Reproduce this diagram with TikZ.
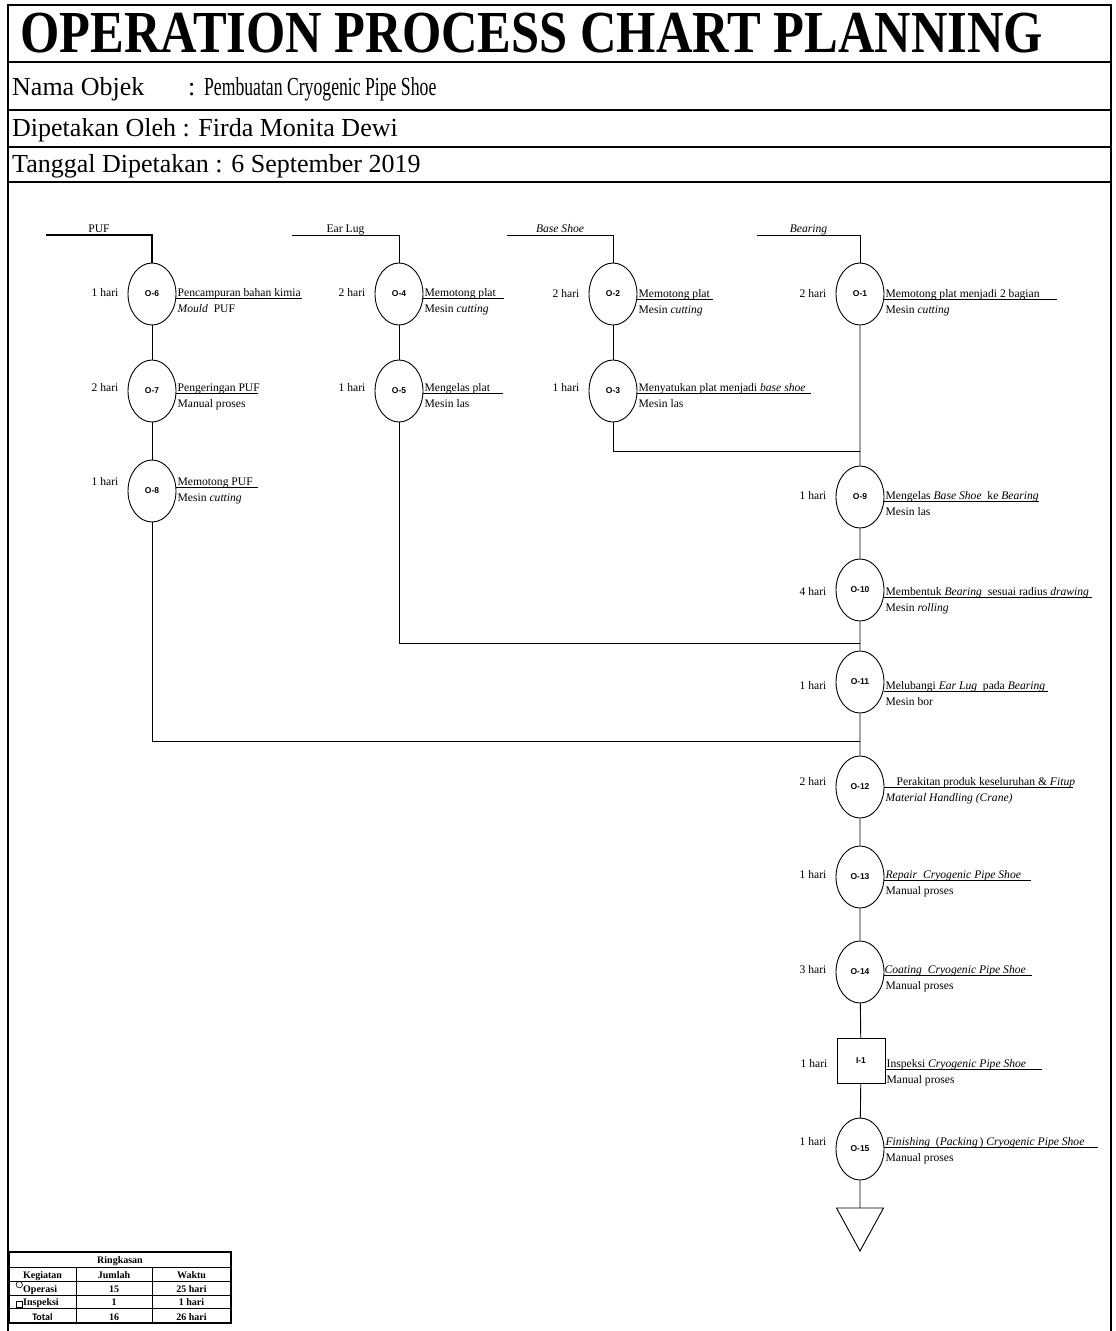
\documentclass[tikz,border=0pt]{standalone}
\usepackage{graphicx}
\usepackage{fontspec}
\setmainfont{Liberation Serif}
\newfontfamily\labelsans{Liberation Sans}
\newfontfamily\tablesans{Carlito}
\usetikzlibrary{shapes.geometric,calc}

\newcommand\notesize{\fontsize{11.6}{13}\selectfont}
\newcommand\headsize{\fontsize{26}{30}\selectfont}
\newcommand\tabsize{\fontsize{10}{11}\selectfont}

\tikzset{
  frameline/.style={line width=2.2pt},
  flow/.style={line width=0.9pt},
  rule/.style={line width=0.8pt},
  opnode/.style={ellipse, draw, line width=0.9pt, minimum width=48pt,
    minimum height=62pt, inner sep=0pt,
    font=\labelsans\bfseries\fontsize{8.5}{10}\selectfont},
  inspnode/.style={rectangle, draw, line width=0.9pt, minimum width=48pt,
    minimum height=45pt, inner sep=0pt,
    font=\labelsans\bfseries\fontsize{8.5}{10}\selectfont},
  note/.style={inner sep=0pt, font=\notesize},
  headtext/.style={inner sep=0pt, anchor=base west, font=\headsize},
  tabtext/.style={inner sep=0pt, anchor=base, font=\bfseries\tabsize},
  tabline/.style={line width=0.8pt},
}

% #1 node, #2 underline offset from centre, #3 underline length,
% #4 duration, #5 first line, #6 second line, #7 indent of first line
\newcommand\opinfo[7]{%
  \coordinate (#1-u) at ($(#1.east)+(0,#2)$);
  \draw[rule] (#1-u) -- ++(#3,0);
  \node[note, anchor=base west] (#1-a) at ($(#1-u)+(1+#7,-2)$) {#5};
  \node[note, anchor=base west] (#1-b) at ($(#1-u)+(1,14)$) {#6};
  \node[note, anchor=base east] (#1-d) at ($(#1.west)+(-9,#2-2)$) {#4};
}

\begin{document}
\begin{tikzpicture}[x=1pt,y=-1pt]
\useasboundingbox (0,0) rectangle (1116,1331);

% ---- frame and heading rows ----
\coordinate (fTL) at (8,5);
\coordinate (fTR) at (1111,5);
\coordinate (fBL) at (8,1331);
\coordinate (fBR) at (1111,1331);
\draw[frameline] (fBL) -- (fTL) -- (fTR) -- (fBR);
\foreach \yy in {62,110,147,182}
  \draw[frameline] (8,\yy) -- (1111,\yy);

\node[inner sep=0pt, anchor=base west, font=\bfseries\fontsize{50.5}{56}\selectfont]
  (title) at (20,52) {\scalebox{1}[1.18]{OPERATION PROCESS CHART PLANNING}};
\node[headtext] (nama) at (12,95) {Nama Objek};
\node[headtext] (namaval) at (188,95) {: \scalebox{0.68}[1]{Pembuatan Cryogenic Pipe Shoe}};
\node[headtext] (oleh) at (12,136) {Dipetakan Oleh : Firda Monita Dewi};
\node[headtext] (tgl) at (12,172) {Tanggal Dipetakan : 6 September 2019};

% ---- operations ----
\node[opnode] (o6) at (152,294) {O-6};
\node[opnode] (o7) at (152,391) {O-7};
\node[opnode] (o8) at (152,491) {O-8};
\node[opnode] (o4) at (399,294) {O-4};
\node[opnode] (o5) at (399,391) {O-5};
\node[opnode] (o2) at (613,294) {O-2};
\node[opnode] (o3) at (613,391) {O-3};
\node[opnode] (o1) at (860,294) {O-1};
\node[opnode] (o9) at (860,497) {O-9};
\node[opnode] (o10) at (860,590) {O-10};
\node[opnode] (o11) at (860,682) {O-11};
\node[opnode] (o12) at (860,787) {O-12};
\node[opnode] (o13) at (860,877) {O-13};
\node[opnode] (o14) at (860,972) {O-14};
\node[inspnode] (i1) at (861,1061) {I-1};
\node[opnode] (o15) at (860,1149) {O-15};

% storage triangle at the end of the flow
\coordinate (storeL) at (836.5,1208);
\coordinate (storeR) at (883.5,1208);
\coordinate (storeTip) at (860,1251);
\coordinate (storeTop) at (860,1208);
\draw[flow] (storeL) -- (storeR) -- (storeTip) -- cycle;

% ---- material inputs ----
\coordinate (inPUF) at (46,235);
\coordinate (inEar) at (292,235);
\coordinate (inBase) at (507,235);
\coordinate (inBear) at (757,235);
\draw[line width=1.6pt] (inPUF) -| node[note, pos=0.25, above=2pt, text depth=0pt] {PUF} (o6.north);
\draw[flow] (inEar) -| node[note, pos=0.25, above=2pt, text depth=0pt] {Ear Lug} (o4.north);
\draw[flow] (inBase) -| node[note, pos=0.25, above=2pt, text depth=0pt] {\itshape Base Shoe} (o2.north);
\draw[flow] (inBear) -| node[note, pos=0.25, above=2pt, text depth=0pt] {\itshape Bearing} (o1.north);

% ---- flow lines ----
\coordinate (j1) at (860,451);
\coordinate (j2) at (860,643);
\coordinate (j3) at (860,741);
\draw[flow] (o6) -- (o7) -- (o8);
\draw[flow] (o4) -- (o5);
\draw[flow] (o2) -- (o3);
\draw[flow] (o3.south) |- (j1);
\draw[flow] (o5.south) |- (j2);
\draw[flow] (o8.south) |- (j3);
\draw[flow] (o1) -- (o9) -- (o10) -- (o11) -- (o12) -- (o13) -- (o14) -- (i1) -- (o15) -- (storeTop);

% ---- descriptions ----
\opinfo{o6}{4}{126}{1 hari}{Pencampuran bahan kimia}{\textit{Mould}\ \ PUF}{0}
\opinfo{o7}{2}{82}{2 hari}{Pengeringan PUF}{Manual proses}{0}
\opinfo{o8}{-4}{82}{1 hari}{Memotong PUF}{Mesin \textit{cutting}}{0}
\opinfo{o4}{4}{81}{2 hari}{Memotong plat}{Mesin \textit{cutting}}{0}
\opinfo{o5}{2}{80}{1 hari}{Mengelas plat}{Mesin las}{0}
\opinfo{o2}{5}{76}{2 hari}{Memotong plat}{Mesin \textit{cutting}}{0}
\opinfo{o3}{2}{174}{1 hari}{Menyatukan plat menjadi \textit{base shoe}}{Mesin las}{0}
\opinfo{o1}{5}{173}{2 hari}{Memotong plat menjadi 2 bagian}{Mesin \textit{cutting}}{0}
\opinfo{o9}{4}{155}{1 hari}{Mengelas \textit{Base Shoe}\ \ ke \textit{Bearing}}{Mesin las}{0}
\opinfo{o10}{7}{208}{4 hari}{Membentuk \textit{Bearing}\ \ sesuai radius \textit{drawing}}{Mesin \textit{rolling}}{0}
\opinfo{o11}{9}{164}{1 hari}{Melubangi \textit{Ear Lug}\ \ pada \textit{Bearing}}{Mesin bor}{0}
\opinfo{o12}{0}{189}{2 hari}{Perakitan produk keseluruhan \& \textit{Fitup}}{\textit{Material Handling (Crane)}}{11}
\opinfo{o13}{3}{147}{1 hari}{\textit{Repair\ \ Cryogenic Pipe Shoe}}{Manual proses}{0}
\opinfo{o14}{3}{148}{3 hari}{\textit{Coating\ \ Cryogenic Pipe Shoe}}{Manual proses}{-1}
\opinfo{i1}{8}{157}{1 hari}{Inspeksi \textit{Cryogenic Pipe Shoe}}{Manual proses}{0}
\opinfo{o15}{-2}{214}{1 hari}{\textit{Finishing}\ \ (\textit{Packing}\,) \textit{Cryogenic Pipe Shoe}}{Manual proses}{0}

% ---- summary table ----
\draw[line width=1.2pt] (9,1252) rectangle (231,1323);
\foreach \yy in {1267,1281,1295,1308}
  \draw[tabline] (9,\yy) -- (231,\yy);
\draw[tabline] (76,1267) -- (76,1323);
\draw[tabline] (152,1267) -- (152,1323);
\node[tabtext] (tRing) at (120,1263.5) {Ringkasan};
\node[tabtext] (tKeg) at (42.5,1278) {Kegiatan};
\node[tabtext] (tJum) at (114,1278) {Jumlah};
\node[tabtext] (tWak) at (191.5,1278) {Waktu};
\node[circle, draw, line width=0.6pt, minimum size=6.4pt, inner sep=0pt] (symOp) at (19.3,1284.7) {};
\node[tabtext, anchor=base west] (tOp) at (23,1292.5) {Operasi};
\node[tabtext] (tOpN) at (114,1292.5) {15};
\node[tabtext] (tOpW) at (191.5,1292.5) {25 hari};
\node[rectangle, draw, line width=0.6pt, minimum size=6.6pt, inner sep=0pt] (symIn) at (19.3,1304.3) {};
\node[tabtext, anchor=base west] (tIn) at (23,1305.5) {Inspeksi};
\node[tabtext] (tInN) at (114,1305.5) {1};
\node[tabtext] (tInW) at (191.5,1305.5) {1 hari};
\node[inner sep=0pt, anchor=base, font=\tablesans\bfseries\tabsize] (tTot) at (42.5,1320) {Total};
\node[tabtext] (tTotN) at (114,1320) {16};
\node[tabtext] (tTotW) at (191.5,1320) {26 hari};
\end{tikzpicture}
\end{document}
